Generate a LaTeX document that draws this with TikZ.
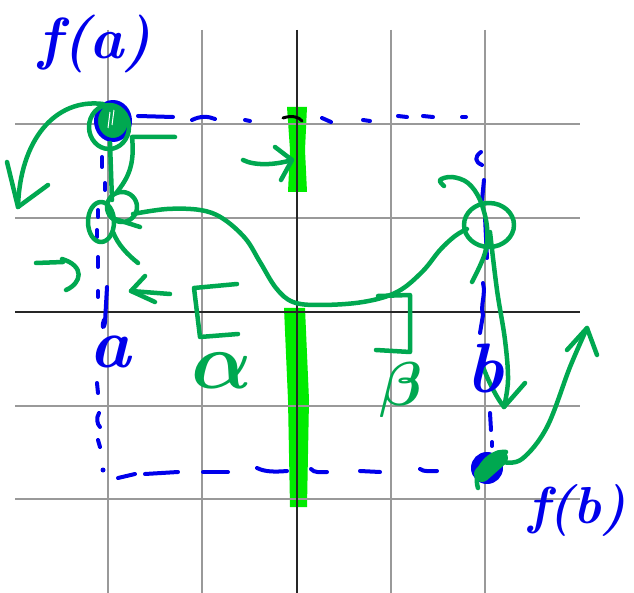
\RequirePackage{fix-cm}
\documentclass[tikz,border=0pt]{standalone}
\usetikzlibrary{arrows.meta}
\definecolor{gstroke}{RGB}{0,168,80}
\definecolor{gbar}{RGB}{0,235,0}
\definecolor{hblue}{RGB}{0,0,235}
\tikzset{
  gridline/.style={black!40, line width=1.6pt},
  axisline/.style={black!85, line width=2.2pt},
  pen/.style={gstroke, line width=4.5pt, line cap=round, line join=round},
  bpen/.style={hblue, line width=4pt, line cap=round, line join=round},
  hl/.style={fill=gbar, draw=none},
  bluelbl/.style={hblue, inner sep=0pt},
  greenlbl/.style={gstroke, inner sep=0pt}
}
\begin{document}
\begin{tikzpicture}[x=1pt,y=-1pt]
\useasboundingbox[fill=white] (0,0) rectangle (634,593);
% highlight bars
\fill[hl] (287,107) -- (307,107) -- (305,150) -- (307,192) -- (288,192) -- (290,150) -- cycle;
\fill[hl] (284,308) -- (305,308) -- (309,400) -- (307,507) -- (290,507) -- (288,400) -- cycle;
% grid
\foreach \x in {108,202,391,485} \draw[gridline] (\x,30) -- (\x,593);
\foreach \y in {124,218,406,499} \draw[gridline] (15,\y) -- (580,\y);
\draw[axisline] (297,30) -- (297,593);
\draw[axisline] (15,312) -- (580,312);
% blue dashed box: top
\draw[bpen] (138,116) -- (173,117);
\draw[bpen] (192,120) .. controls (200,116) and (208,116) .. (215,119);
\draw[bpen] (245,120) -- (250,121);
\draw[black, line width=3pt, line cap=round] (283,118) .. controls (292,115) and (299,117) .. (302,121);
\draw[bpen] (322,118) -- (331,122);
\draw[bpen] (363,120) -- (370,121);
\draw[bpen] (398,116) -- (407,117);
\draw[bpen] (423,116) -- (433,117);
\draw[bpen] (462,117) -- (466,117);
% left
\draw[bpen] (102,157) -- (102,167);
\draw[bpen] (105,183) -- (105,190);
\draw[bpen] (98,210) -- (98,217);
\draw[bpen] (97,230) -- (97,237);
\draw[bpen] (98,257) -- (98,267);
\draw[bpen] (98,291) -- (98,297);
\draw[bpen] (107,287) -- (105,322) .. controls (104,330) and (101,328) .. (104,320);
\draw[bpen] (97,383) -- (98,393);
\draw[bpen] (99,413) .. controls (96,418) and (97,424) .. (100,427);
\draw[bpen] (98,440) -- (100,447);
\fill[hblue] (103,470) circle (2.5);
% bottom
\draw[bpen] (118,478) -- (135,474);
\draw[bpen] (145,474) -- (178,472);
\draw[bpen] (203,472) -- (228,472);
\draw[bpen] (257,468) .. controls (265,472) and (275,472) .. (287,471);
\draw[bpen] (311,469) .. controls (314,473) and (320,472) .. (327,472);
\draw[bpen] (360,471) -- (380,472);
\draw[bpen] (420,469) .. controls (424,472) and (430,471) .. (437,471);
% right
\draw[bpen] (481,152) .. controls (474,157) and (475,162) .. (482,165);
\draw[bpen] (484,180) -- (482,200);
\draw[bpen] (485,217) -- (487,258);
\draw[bpen] (483,283) .. controls (486,295) and (480,305) .. (483,315) -- (480,333);
\draw[bpen] (490,413) -- (491,430);
\draw[bpen] (492,442) -- (492,446);
% f(a) point
\draw[bpen, fill=gstroke] (113,121) ellipse (17 and 19);
\draw[pen] (109,127) ellipse (20 and 22);
\draw[white, line width=1pt] (110,112) -- (108,128) (114,110) -- (112,125);
% f(b) point
\draw[bpen, fill=hblue] (487,468) ellipse (14 and 14);
\draw[gstroke, line width=16pt, line cap=round] (482,474) -- (500,458);
\draw[pen] (478,488) .. controls (472,470) and (490,450) .. (506,452);
% main curve
\draw[pen] plot[smooth, tension=0.6] coordinates {(133,214) (167,209) (200,210) (222,218) (245,238) (260,262) (276,288) (293,302) (320,305) (363,302) (397,292) (422,272) (440,250) (455,236) (467,229)};
% left circles and strokes
\draw[pen] (122,207) circle (15);
\draw[pen] (101,222) ellipse (13 and 20);
\draw[pen] (113,232) .. controls (118,245) and (128,255) .. (138,263);
\draw[pen] (115,219) -- (140,227);
\draw[pen] (110,143) -- (112,200);
\draw[pen] (117,192) .. controls (128,178) and (135,165) .. (132,137) -- (175,137);
% big arrow from f(a)
\draw[pen] (103,104) .. controls (55,98) and (20,140) .. (18,207);
\draw[pen] (7,162) -- (18,207) -- (48,185);
% small arrow towards upper bar
\draw[pen] (243,160) .. controls (255,166) and (275,165) .. (292,160);
\draw[pen] (275,147) -- (292,160) -- (281,180);
% small arrow on the left
\draw[pen] (36,263) -- (63,262);
\draw[pen] (62,259) .. controls (85,266) and (82,283) .. (66,290);
% left-pointing arrow
\draw[pen] (131,291) -- (170,294);
\draw[pen] (145,276) -- (131,291) -- (155,302);
% brackets
\draw[pen] (237,284) -- (194,288) -- (200,337) -- (238,334);
\draw[pen] (378,296) -- (410,295) -- (410,352) -- (376,350);
% right side
\draw[pen] (489,225) ellipse (25 and 22);
\draw[pen] plot[smooth, tension=0.6] coordinates {(444,186) (440,180) (452,177) (468,183) (480,200) (487,227) (485,253) (472,282)};
\draw[pen] plot[smooth, tension=0.6] coordinates {(490,232) (497,290) (505,340) (508,380) (504,407)};
\draw[pen] (483,367) .. controls (490,385) and (497,398) .. (504,407) -- (525,383);
\draw[pen] plot[smooth, tension=0.6] coordinates {(503,462) (522,459) (547,427) (570,367) (587,328)};
\draw[pen] (567,350) -- (587,328) -- (597,355);
% labels
\node[bluelbl, font=\fontsize{58}{58}\selectfont\bfseries\itshape] (fa) at (95,44) {f(a)};
\node[bluelbl, font=\fontsize{52}{52}\selectfont\bfseries\itshape] (fb) at (577,510) {f(b)};
\node[bluelbl, font=\fontsize{70}{70}\selectfont\bfseries\itshape] (la) at (110,352) {a};
\node[bluelbl, font=\fontsize{70}{70}\selectfont\bfseries\itshape] (lb) at (485,368) {b};
\node[greenlbl, font=\fontsize{80}{80}\selectfont\boldmath] (al) at (222,371) {$\alpha$};
\node[greenlbl, font=\fontsize{62}{62}\selectfont\boldmath] (be) at (401,390) {$\beta$};
\end{tikzpicture}
\end{document}
